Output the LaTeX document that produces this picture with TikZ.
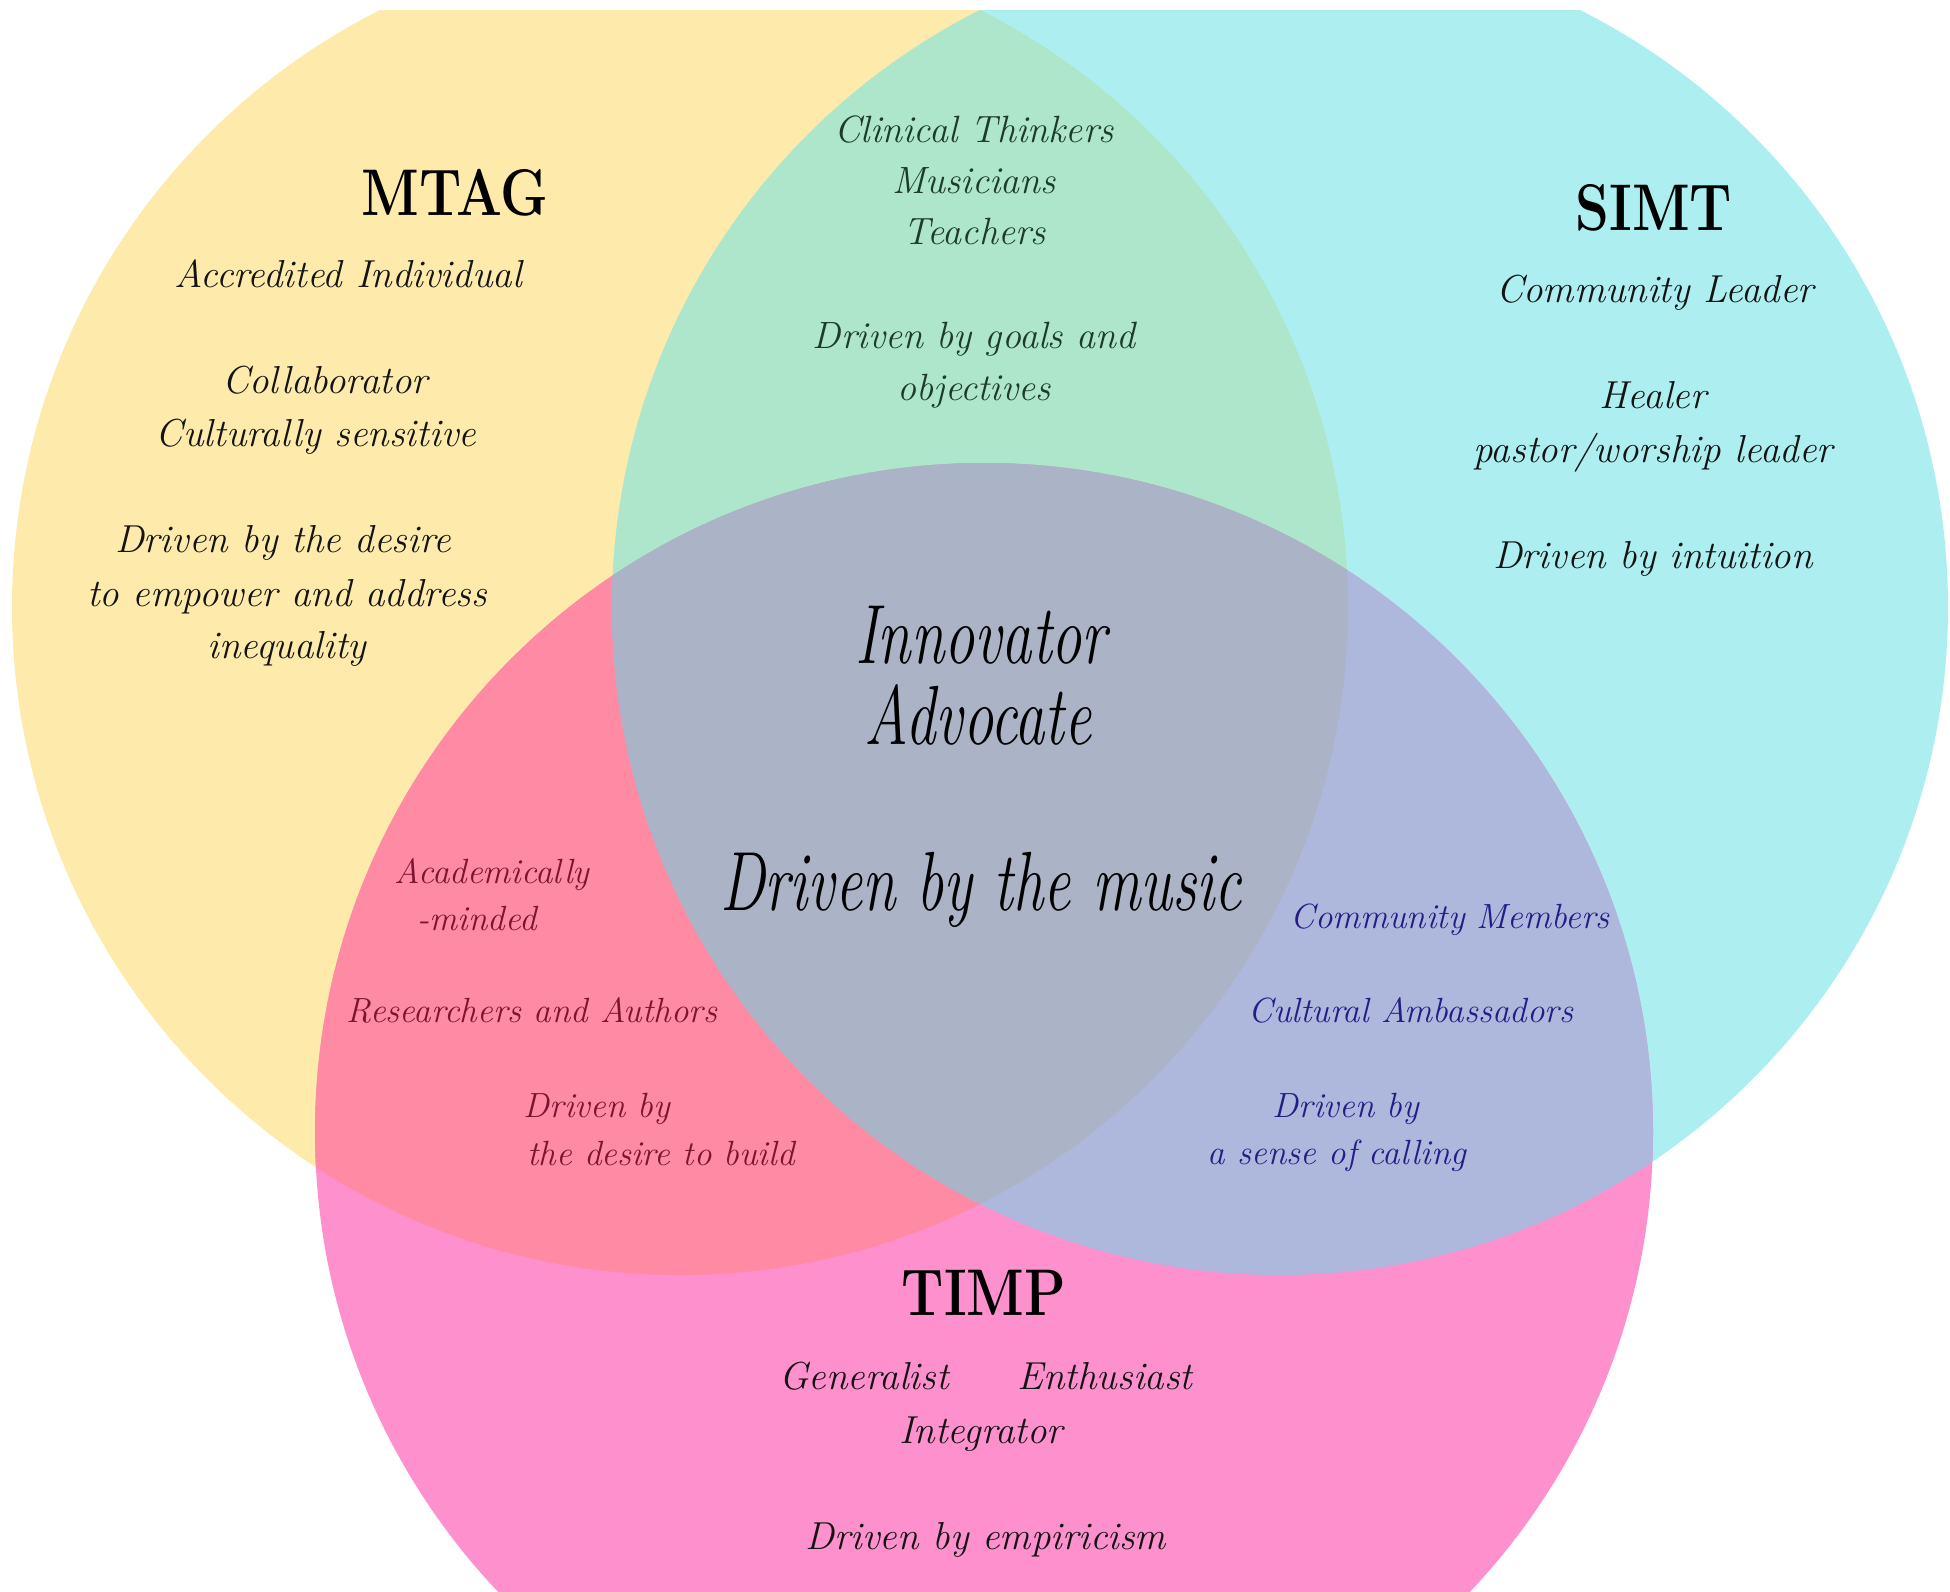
\documentclass[tikz,border=0pt]{standalone}
\usepackage{fontspec}
\usepackage{graphicx}
\definecolor{cyel}{HTML}{FEEBAB}
\definecolor{ccya}{HTML}{ADEFF0}
\definecolor{cpnk}{HTML}{FE90CD}
\definecolor{cgrn}{HTML}{ADE6CB}
\definecolor{csal}{HTML}{FE8AA3}
\definecolor{clav}{HTML}{ADB8DC}
\definecolor{cmid}{HTML}{ABB4C6}
\definecolor{tblk}{HTML}{141414}
\definecolor{tgrn}{HTML}{1C3B29}
\definecolor{tred}{HTML}{7A1430}
\definecolor{tnav}{HTML}{261C86}
\begin{document}
\begin{tikzpicture}[x=1pt,y=-1pt,
  txt/.style={font=\fontsize{39}{46}\selectfont\itshape, anchor=base, inner sep=0pt, text=tblk},
  stxt/.style={font=\fontsize{35}{42}\selectfont\itshape, anchor=base, inner sep=0pt},
  gtxt/.style={font=\fontsize{38}{45}\selectfont\itshape, anchor=base, inner sep=0pt, text=tgrn},
  ttl/.style={font=\fontsize{66}{70}\selectfont\bfseries, anchor=base, inner sep=0pt, text=black},
  mid/.style={font=\fontsize{84}{90}\selectfont\itshape, anchor=base, inner sep=0pt, text=black}]
\useasboundingbox (0,0) rectangle (1950,1591);
\coordinate (cY) at (680,607);
\coordinate (cC) at (1280,607);
\coordinate (cP) at (984,1132);
\begin{scope}
  \clip (0,10) rectangle (1950,1591);
  \fill[cyel] (cY) circle[radius=668pt];
  \fill[ccya] (cC) circle[radius=668pt];
  \fill[cpnk] (cP) circle[radius=669pt];
  \begin{scope}
    \clip (cY) circle[radius=668pt];
    \fill[cgrn] (cC) circle[radius=668pt];
    \fill[csal] (cP) circle[radius=669pt];
  \end{scope}
  \begin{scope}
    \clip (cC) circle[radius=668pt];
    \fill[clav] (cP) circle[radius=669pt];
    \clip (cY) circle[radius=668pt];
    \fill[cmid] (cP) circle[radius=669pt];
  \end{scope}
\end{scope}
% MTAG
\node[ttl] (mtag) at (455,215) {\scalebox{0.82}[1]{MTAG}};
\node[txt] (m1) at (348,287) {Accredited Individual};
\node[txt] (m2) at (325,393) {Collaborator};
\node[txt] (m3) at (316,446) {Culturally sensitive};
\node[txt] (m4) at (283,552) {Driven by the desire};
\node[txt] (m5) at (287,606) {to empower and address};
\node[txt] (m6) at (287,658) {inequality};
% green
\node[gtxt] (g1) at (974,142) {Clinical Thinkers};
\node[gtxt] (g2) at (974,193) {Musicians};
\node[gtxt] (g3) at (975,244) {Teachers};
\node[gtxt] (g4) at (974,348) {Driven by goals and};
\node[gtxt] (g5) at (974,400) {objectives};
% SIMT
\node[ttl] (simt) at (1654,230) {\scalebox{0.82}[1]{SIMT}};
\node[txt] (s1) at (1655,302) {Community Leader};
\node[txt] (s2) at (1653,408) {Healer};
\node[txt] (s3) at (1653,462) {pastor/worship leader};
\node[txt] (s4) at (1653,568) {Driven by intuition};
% centre
\node[mid] (c1) at (981,663) {\scalebox{0.72}[1]{Innovator}};
\node[mid] (c2) at (978,744) {\scalebox{0.72}[1]{Advocate}};
\node[mid] (c3) at (981,910) {\scalebox{0.72}[1]{Driven by the music}};
% yellow-pink
\node[stxt, text=tred] (r1) at (492,883) {Academically};
\node[stxt, text=tred] (r2) at (477,930) {-minded};
\node[stxt, text=tred] (r3) at (532,1022) {Researchers and Authors};
\node[stxt, text=tred] (r4) at (597,1117) {Driven by};
\node[stxt, text=tred] (r5) at (661,1165) {the desire to build};
% cyan-pink
\node[stxt, text=tnav] (b1) at (1450,928) {Community Members};
\node[stxt, text=tnav] (b2) at (1411,1022) {Cultural Ambassadors};
\node[stxt, text=tnav] (b3) at (1346,1117) {Driven by};
\node[stxt, text=tnav] (b4) at (1337,1164) {a sense of calling};
% TIMP
\node[ttl] (timp) at (984,1315) {\scalebox{0.82}[1]{TIMP}};
\node[txt] (p1) at (864,1389) {Generalist};
\node[txt] (p2) at (1105,1389) {Enthusiast};
\node[txt] (p3) at (981,1443) {Integrator};
\node[txt] (p4) at (986,1549) {Driven by empiricism};
\end{tikzpicture}
\end{document}
